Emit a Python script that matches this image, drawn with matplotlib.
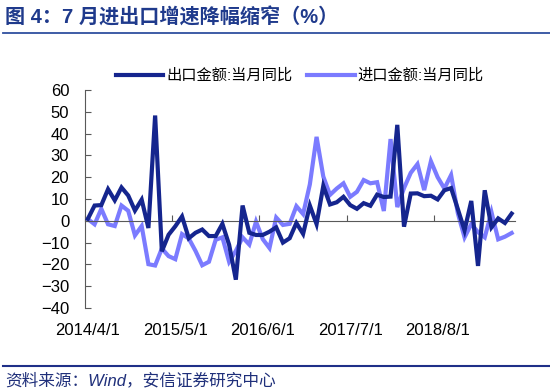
#!/usr/bin/env python3
"""Monthly export / import YoY growth, 2014/4 - 2019/7."""
import matplotlib
matplotlib.use("Agg")
import matplotlib.pyplot as plt
from matplotlib.lines import Line2D

# monthly series, 2014/4 .. 2019/7 (64 months)
months = [f"{2014 + (3 + k) // 12}/{(3 + k) % 12 + 1}/1" for k in range(64)]
exports = [0.9, 7.0, 7.2, 14.5, 9.4, 15.3, 11.6, 4.7, 9.7,
           -3.3, 48.3, -14.0, -6.4, -2.5, 2.0, -8.0, -5.5, -4.0, -7.0, -7.0, -1.4,
           -11.0, -27.0, 7.0, -5.5, -6.5, -6.5, -5.0, -3.0, -10.0, -8.0, -1.0, -6.0,
           7.0, -1.5, 16.0, 7.5, 8.5, 11.0, 7.2, 5.5, 8.1, 6.9, 12.0, 10.9,
           11.1, 44.0, -2.7, 12.5, 12.6, 11.3, 11.5, 9.8, 14.0, 15.0, 5.4, -4.4,
           9.1, -20.7, 14.0, -3.0, 1.1, -1.0, 3.3]
imports = [0.8, -1.6, 5.5, -1.6, -2.4, 7.0, 4.6, -6.7, -2.4,
           -19.9, -20.5, -12.7, -16.2, -17.6, -6.1, -8.1, -13.8, -20.4, -18.8, -8.7, -7.6,
           -18.8, -13.8, -7.6, -10.9, -0.4, -8.4, -12.5, 1.5, -1.9, -1.4, 6.7, 3.1,
           16.7, 38.5, 20.3, 11.9, 14.8, 17.2, 11.0, 13.3, 18.7, 17.2, 17.7, 4.5,
           37.5, 6.3, 15.0, 22.0, 26.0, 14.1, 27.3, 20.0, 14.8, 21.0, 3.5, -7.6,
           -1.5, -5.2, -7.6, 4.0, -8.5, -7.3, -5.6]
label_idx = [0, 13, 26, 39, 52]
series_names = ["出口金额:当月同比", "进口金额:当月同比"]

DARK = "#15258e"
LIGHT = "#7b7bff"
AXIS = "#595959"
CJK = ["Liberation Sans", "Noto Sans CJK SC"]

plt.rcParams["font.family"] = CJK

fig = plt.figure(figsize=(5.5, 3.91), dpi=100)
ax = fig.add_axes([84.5 / 550, 83 / 391, 430.5 / 550, 218 / 391])

x = list(range(len(months)))
ax.plot(x, exports, color=DARK, lw=3.0, solid_joinstyle="miter", label=series_names[0], zorder=3)
ax.plot(x, imports, color=LIGHT, lw=3.0, solid_joinstyle="miter", label=series_names[1], zorder=2)

ax.set_xlim(-0.5, len(months) - 0.5)
ax.set_ylim(-40, 60)
ax.set_yticks(range(-40, 61, 10))
ax.tick_params(axis="y", direction="in", length=4, width=0.8, color=AXIS,
               labelsize=12, pad=11)

# category axis crossing at zero, tick marks between categories
ax.spines["bottom"].set_position(("data", 0))
ax.spines["bottom"].set_color(AXIS)
ax.spines["bottom"].set_linewidth(0.8)
ax.spines["left"].set_color(AXIS)
ax.spines["left"].set_linewidth(0.8)
ax.spines["top"].set_visible(False)
ax.spines["right"].set_visible(False)
ax.set_xticks([i - 0.5 for i in label_idx])
ax.tick_params(axis="x", direction="in", length=4, width=0.8, color=AXIS, labelbottom=False)

sec = ax.secondary_xaxis(0.0)
sec.set_xticks(label_idx)
sec.set_xticklabels([months[i] for i in label_idx])
sec.tick_params(axis="x", length=0, labelsize=12, pad=11)
sec.spines["bottom"].set_visible(False)

fig.legend(loc="center", bbox_to_anchor=(0.545, 1 - 76 / 391), ncol=2, frameon=False,
           fontsize=11, handlelength=3.1, handletextpad=0.2, columnspacing=1.0)

# header / footer
fig.text(0.009, 1 - 17 / 391, "图 4：7 月进出口增速降幅缩窄（%）", fontsize=14.5,
         fontweight="bold", color="#1f3a8c", va="center", ha="left")
fig.add_artist(Line2D([0.005, 1.0], [1 - 33 / 391] * 2, transform=fig.transFigure,
                      color="#2f4f9f", lw=1.3))
fig.add_artist(Line2D([0.005, 1.0], [1 - 366 / 391] * 2, transform=fig.transFigure,
                      color="#1f2f88", lw=1.5))
fig.text(0.009, 1 - 380 / 391, "资料来源：Wind，安信证券研究中心", fontsize=12,
         fontstyle="italic", color="#1f2f7a", va="center", ha="left")

fig.savefig("out.png", dpi=100)
